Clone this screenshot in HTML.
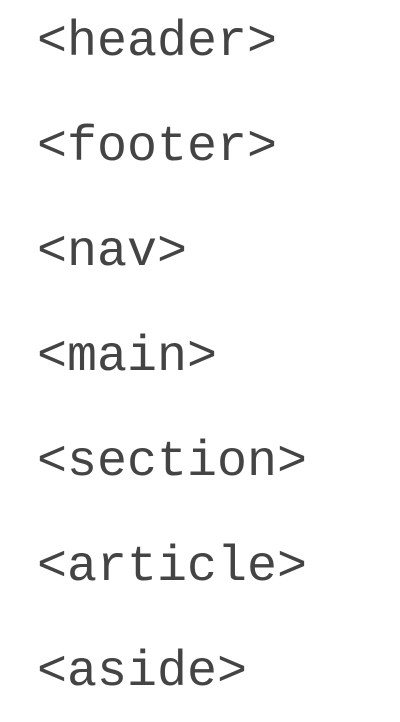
<!DOCTYPE html>
<html><head><meta charset="utf-8"><style>
html,body{margin:0;padding:0;background:#fff;width:400px;height:722px;overflow:hidden}
svg text{font-family:"Courier New","Nimbus Mono PS","Nimbus Mono L","FreeMono","Courier","Liberation Mono",monospace;font-size:50px;fill:#444;font-weight:normal}
</style></head><body>
<svg width="400" height="722" xmlns="http://www.w3.org/2000/svg">
<text x="37" y="55">&lt;header&gt;</text>
<text x="37" y="160">&lt;footer&gt;</text>
<text x="37" y="265">&lt;nav&gt;</text>
<text x="37" y="370">&lt;main&gt;</text>
<text x="37" y="475">&lt;section&gt;</text>
<text x="37" y="580">&lt;article&gt;</text>
<text x="37" y="685">&lt;aside&gt;</text>
</svg>
</body></html>
